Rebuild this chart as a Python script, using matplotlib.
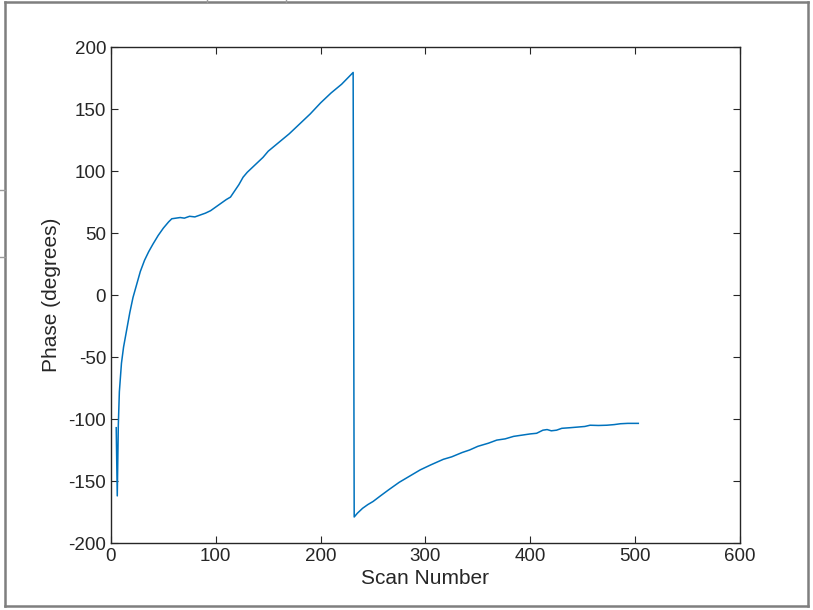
import matplotlib
matplotlib.use("Agg")
import matplotlib.pyplot as plt
from matplotlib.lines import Line2D

plt.rcParams['font.family'] = ['Liberation Sans', 'DejaVu Sans']
plt.rcParams['axes.unicode_minus'] = False

# phase per scan
scan = [5, 6, 7, 8, 10, 12, 15, 18, 21, 25, 28, 32, 36, 40, 45, 50, 55, 58,
        62, 66, 70, 75, 80, 85, 90, 95, 100, 105, 110, 114, 118, 122, 126,
        130, 135, 140, 145, 150, 160, 170, 180, 190, 200, 210, 220, 231,
        232, 235, 240, 245, 250, 257, 265, 275, 285, 295, 305, 317, 325,
        335, 342, 350, 360, 368, 376, 384, 392, 400, 406, 412, 416, 420,
        425, 430, 438, 445, 452, 457, 465, 473, 480, 486, 493, 500, 503]
phase = [-107, -162, -105, -78, -55, -42, -28, -14, -2, 10, 19, 28, 35, 41,
         48, 54, 59, 61.5, 62, 62.5, 62, 63.5, 63, 64.5, 66, 68, 71, 74, 77,
         79, 84, 89, 95, 99, 103, 107, 111, 116, 123, 130, 138, 146, 155,
         163, 170, 179.5,
         -179, -176, -172, -169, -166.5, -162, -157, -151, -146, -141, -137,
         -132.5, -130.5, -127, -125, -122, -119.5, -117, -116, -114, -113,
         -112, -111.5, -109, -108.5, -109.5, -109, -107.5, -107, -106.5,
         -106, -105, -105.2, -105, -104.5, -103.8, -103.5, -103.5, -103.5]

xticks = [0, 100, 200, 300, 400, 500, 600]
yticks = [-200, -150, -100, -50, 0, 50, 100, 150, 200]

fig = plt.figure(figsize=(8.13, 6.10), dpi=100)
ax = fig.add_axes([0.1365, 0.1098, 0.7737, 0.8131])

ax.plot(scan, phase, color='#0072BD', linewidth=1.1)

ax.set_xlim(0, 600)
ax.set_ylim(-200, 200)
ax.set_xticks(xticks)
ax.set_yticks(yticks)
ax.tick_params(direction='in', top=True, right=True, length=5, width=0.8,
               colors='#262626', labelsize=13.5, labelcolor='#262626')
for s in ax.spines.values():
    s.set_color('#262626')
    s.set_linewidth(1.0)
ax.set_xlabel('Scan Number', fontsize=15, color='#262626', labelpad=3)
ax.set_ylabel('Phase (degrees)', fontsize=15, color='#262626', labelpad=5)

# window frame around the figure
W, H = 813, 610
def px_line(x0, y0, x1, y1, lw=1.8, c='#7f7f7f'):
    fig.add_artist(Line2D([x0 / W, x1 / W], [1 - y0 / H, 1 - y1 / H],
                          transform=fig.transFigure, color=c, linewidth=lw))

px_line(5, 2, 808, 2)
px_line(5, 2, 5, 606)
px_line(808, 2, 808, 606)
px_line(5, 606, 808, 606)
px_line(0, 190, 5, 190, lw=1.0, c='#9a9a9a')
px_line(0, 257, 5, 257, lw=1.0, c='#9a9a9a')
px_line(207, 0, 207, 2, lw=1.0, c='#9a9a9a')
px_line(286, 0, 286, 2, lw=1.0, c='#9a9a9a')

fig.savefig('out.png', dpi=100)
